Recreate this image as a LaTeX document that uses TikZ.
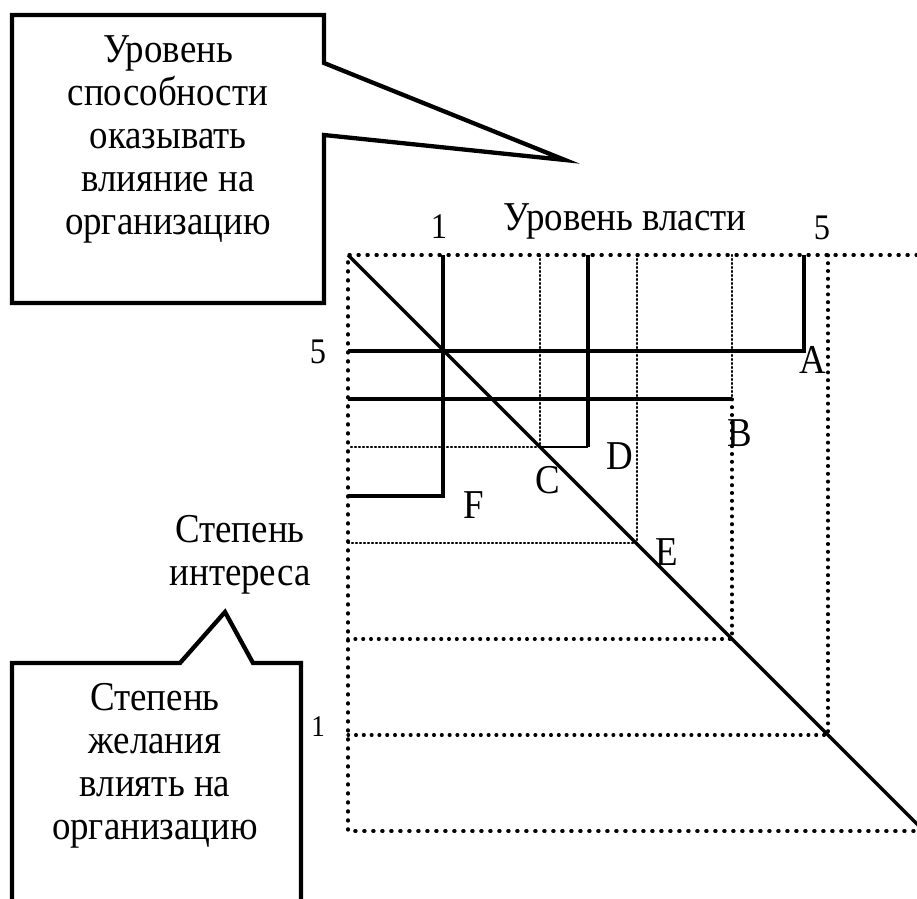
\documentclass[tikz,border=0pt]{standalone}
\usepackage{fontspec}
\setmainfont{Liberation Serif}[FakeStretch=0.9]
\usetikzlibrary{positioning}

\begin{document}
\begin{tikzpicture}[
  x=1pt,y=-1pt,
  txt/.style={font=\fontsize{41}{43}\selectfont,inner sep=0pt,align=center},
  num/.style={font=\fontsize{36}{40}\selectfont,inner sep=0pt},
  callout/.style={draw=black,line width=4.3pt,fill=white,line join=miter},
  thk/.style={line width=3.4pt},
  thn/.style={line width=2pt},
  frm/.style={line width=3.6pt,line cap=round,dash pattern=on 0.8pt off 8.2pt},
  dots/.style={line width=3.2pt,line cap=round,dash pattern=on 0.8pt off 7pt},
  fine/.style={line width=2.2pt,line cap=round,dash pattern=on 1pt off 3pt}
]
\useasboundingbox (0,0) rectangle (917,898);
\clip (0,0) rectangle (917,898);

% frame of the grid
\coordinate (o)  at (348,255);
\coordinate (tr) at (917,255);
\coordinate (bl) at (348,831);
\coordinate (br) at (917,831);
\draw[frm] (tr) -- (o) -- (bl) -- (br);
\draw[thk] (o) -- (925,832);

% stakeholders
\draw[thk]  (804,255) -- (804,351) -- (348,351);          % A
\draw[fine] (732,255) -- (732,399);                        % B
\draw[thk]  (348,399) -- (732,399);
\draw[dots] (732,399) -- (732,639) -- (348,639);
\draw[fine] (540,255) -- (540,447) -- (348,447);          % C
\draw[thk]  (588,255) -- (588,447);                        % D
\draw[thn]  (540,447) -- (588,447);
\draw[fine] (637,255) -- (637,543) -- (348,543);          % E
\draw[thk]  (443,255) -- (443,496) -- (348,496);          % F
\draw[dots] (828,255) -- (828,735) -- (348,735);

% letters
\node[txt] (lA) at (813,360) {A};
\node[txt] (lB) at (740,433) {B};
\node[txt] (lC) at (548,480) {C};
\node[txt] (lD) at (620,456) {D};
\node[txt] (lE) at (667,552) {E};
\node[txt] (lF) at (474,505) {F};

% axes
\node[num] (p1) at (439,227) {1};
\node[txt,anchor=base] (pw) at (625,230) {Уровень власти};
\node[num] (p5) at (822,228) {5};
\node[num] (i5) at (318,352) {5};
\node[num,font=\fontsize{30}{36}\selectfont] (i1) at (318,727) {1};
\node[txt,anchor=base] (in) at (240,585) {Степень\\интереса};

% callouts
\draw[callout] (12,15) -- (324,15) -- (324,63) -- (565,160) -- (324,135)
      -- (324,303) -- (12,303) -- cycle;
\node[txt,anchor=base] (c1) at (168,234) {Уровень\\способности\\оказывать\\влияние на\\организацию};

\draw[callout] (12,940) -- (12,663) -- (180,663) -- (225,612) -- (253,663)
      -- (301,663) -- (301,940);
\node[txt,anchor=base] (c2) at (155,839) {Степень\\желания\\влиять на\\организацию};

\end{tikzpicture}
\end{document}
